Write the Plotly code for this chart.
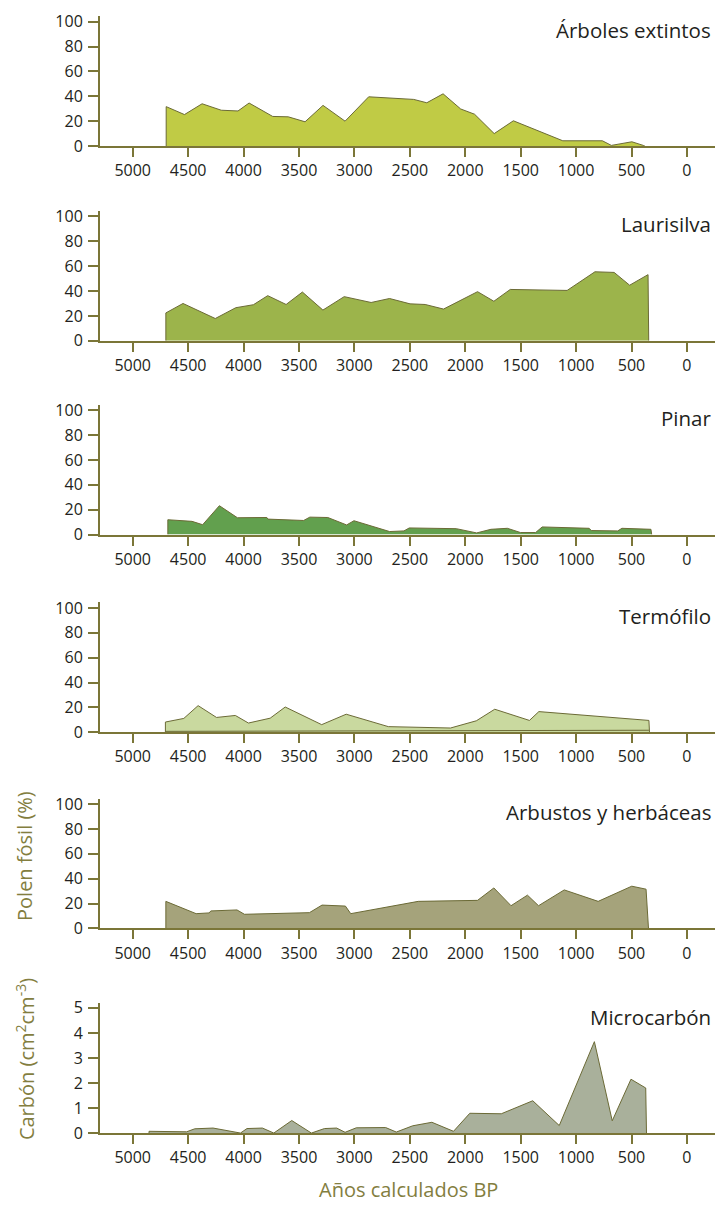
import plotly.graph_objects as go

# ---------------- data ----------------
x_ticks = [5000, 4500, 4000, 3500, 3000, 2500, 2000, 1500, 1000, 500, 0]
pct_ticks = [0, 20, 40, 60, 80, 100]
carbon_ticks = [0, 1, 2, 3, 4, 5]

panel_titles = ["Árboles extintos", "Laurisilva", "Pinar", "Termófilo",
                "Arbustos y herbáceas", "Microcarbón"]

arboles_x = [4698, 4698, 4533, 4374, 4201, 4050, 3950, 3737, 3597, 3445, 3283, 3084,
             2871, 2465, 2347, 2200, 2041, 1916, 1739, 1566, 1120, 763, 682, 497, 394, 380]
arboles_y = [0, 31.7, 25.3, 34.0, 28.8, 28.2, 34.6, 23.8, 23.5, 19.5, 32.7, 20.0,
             39.6, 37.5, 34.8, 42.0, 29.8, 25.6, 10.0, 20.3, 4.2, 4.2, 0.5, 3.4, 0.5, 0]

laurisilva_x = [4701, 4701, 4546, 4255, 4070, 3911, 3782, 3616, 3469, 3284, 3092, 2849,
                2683, 2498, 2362, 2196, 1889, 1742, 1594, 1081, 830, 657, 517, 351, 345]
laurisilva_y = [0, 22.4, 30.0, 17.9, 26.6, 29.0, 36.3, 29.2, 39.2, 24.7, 35.5, 30.8,
                34.0, 29.7, 29.2, 25.5, 39.5, 31.8, 41.3, 40.5, 55.5, 55.0, 44.7, 53.2, 0]

pinar_x = [4683, 4683, 4465, 4369, 4218, 4055, 3790, 3779, 3458, 3402, 3240, 3070, 3004,
           2683, 2553, 2505, 2081, 1897, 1768, 1620, 1502, 1365, 1306, 882, 863, 624, 587,
           325, 318]
pinar_y = [0, 11.9, 10.6, 7.9, 23.2, 13.5, 13.7, 12.4, 11.3, 14.0, 13.7, 7.7, 11.1,
           2.4, 2.9, 5.3, 4.7, 1.3, 4.2, 5.0, 1.6, 1.6, 6.1, 5.0, 3.2, 2.9, 5.0,
           4.2, 0]

termofilo_x = [4705, 4705, 4539, 4410, 4244, 4074, 3956, 3760, 3624, 3295, 3074, 2694,
               2133, 1900, 1734, 1421, 1336, 343, 338]
termofilo_y = [0, 8.2, 11.1, 21.4, 11.9, 13.5, 7.4, 11.3, 20.3, 6.1, 14.5, 4.5,
               3.4, 9.2, 18.5, 9.5, 16.6, 9.5, 0]
termofilo_base_x = [4705, 343]
termofilo_base_y = [0.7, 1.6]

arbustos_x = [4701, 4701, 4428, 4310, 4295, 4059, 3992, 3406, 3292, 3081, 3033, 2424,
              1889, 1742, 1587, 1439, 1339, 1107, 801, 498, 369, 347]
arbustos_y = [0, 21.8, 11.9, 12.5, 14.1, 14.9, 11.4, 12.7, 18.8, 18.0, 11.9, 21.8,
              22.6, 32.6, 18.3, 26.8, 18.3, 31.0, 21.8, 34.0, 31.6, 0]

carbon_x = [4853, 4853, 4514, 4440, 4275, 4028, 3969, 3830, 3727, 3565, 3388, 3270, 3160,
            3084, 2983, 2718, 2622, 2474, 2301, 2106, 1959, 1675, 1391, 1152, 835, 674,
            505, 372, 365]
carbon_y = [0, 0.07, 0.05, 0.17, 0.20, 0.0, 0.18, 0.20, 0.0, 0.50, 0.0, 0.18, 0.20,
            0.03, 0.21, 0.22, 0.04, 0.29, 0.43, 0.07, 0.79, 0.77, 1.29, 0.30, 3.65, 0.49,
            2.15, 1.80, 0]

# ---------------- styling ----------------
W, H = 715, 1219
L_MARGIN = 100
OLIVE = "#7b7638"
EDGE = "#6b6a36"
LABEL_OLIVE = "#837e3f"
TEXT = "#231f20"
FONT = "Open Sans"

fills = ["#c0cb45", "#9cb44b", "#62a04e", "#c9d99f", "#a5a37b", "#a9b09b"]
series = [(arboles_x, arboles_y), (laurisilva_x, laurisilva_y), (pinar_x, pinar_y),
          (termofilo_x, termofilo_y), (arbustos_x, arbustos_y), (carbon_x, carbon_y)]

zero_px = [142, 339.5, 536, 736.5, 935.5, 1143]
heights = [131.7, 131.7, 131.7, 131.7, 131.7, 132.3]
yranges = [[0, 104.5]] * 5 + [[0, 5.21]]
yticks = [pct_ticks] * 5 + [carbon_ticks]
xrange_ = [5295, -253]

fig = go.Figure()
layout = dict(
    width=W, height=H,
    margin=dict(l=L_MARGIN, r=0, t=0, b=0),
    paper_bgcolor="white", plot_bgcolor="white",
    showlegend=False,
    font=dict(family=FONT, size=15, color=TEXT),
)
annotations = []

for i in range(6):
    k = i + 1
    xa = "x" if k == 1 else f"x{k}"
    ya = "y" if k == 1 else f"y{k}"
    xs, ys = series[i]
    fig.add_trace(go.Scatter(
        x=xs, y=ys, mode="lines", fill="tozeroy",
        fillcolor=fills[i], line=dict(color=EDGE, width=1),
        xaxis=xa, yaxis=ya, hoverinfo="skip"))
    if i == 3:
        fig.add_trace(go.Scatter(
            x=termofilo_base_x, y=termofilo_base_y, mode="lines",
            line=dict(color=EDGE, width=1), xaxis=xa, yaxis=ya, hoverinfo="skip"))

    b = zero_px[i]
    top = b - heights[i]
    xkey = "xaxis" if k == 1 else f"xaxis{k}"
    ykey = "yaxis" if k == 1 else f"yaxis{k}"
    layout[xkey] = dict(
        domain=[0, 1], anchor=ya, range=xrange_, tickvals=x_ticks,
        ticktext=[str(v) for v in x_ticks],
        showline=True, linecolor=OLIVE, linewidth=2,
        ticks="outside", ticklen=9, tickwidth=2, tickcolor=OLIVE,
        showgrid=False, zeroline=False, tickfont=dict(size=16, color=TEXT, family=FONT),
        ticklabelstandoff=0,
    )
    layout[ykey] = dict(
        domain=[1 - b / H, 1 - top / H], anchor=xa, range=yranges[i],
        tickvals=yticks[i], ticktext=[str(v) for v in yticks[i]],
        showline=True, linecolor=OLIVE, linewidth=2,
        ticks="outside", ticklen=10, tickwidth=2, tickcolor=OLIVE,
        showgrid=False, zeroline=False, tickfont=dict(size=16, color=TEXT, family=FONT),
        ticklabelstandoff=2,
    )
    annotations.append(dict(
        text=panel_titles[i], xref="paper", yref="paper",
        x=(713 - L_MARGIN) / (W - L_MARGIN), y=1 - (b - 118) / H,
        xanchor="right", yanchor="middle", showarrow=False,
        font=dict(family=FONT, size=20.5, color=TEXT)))

# axis titles
annotations.append(dict(
    text="Polen fósil (%)", xref="paper", yref="paper",
    x=(25 - L_MARGIN) / (W - L_MARGIN), y=1 - 862 / H, textangle=-90,
    xanchor="center", yanchor="middle", showarrow=False,
    font=dict(family=FONT, size=20, color=LABEL_OLIVE)))
annotations.append(dict(
    text="Carbón (cm<sup>2</sup>cm<sup>-3</sup>)", xref="paper", yref="paper",
    x=(25 - L_MARGIN) / (W - L_MARGIN), y=1 - 1068 / H, textangle=-90,
    xanchor="center", yanchor="middle", showarrow=False,
    font=dict(family=FONT, size=20, color=LABEL_OLIVE)))
annotations.append(dict(
    text="Años calculados BP", xref="paper", yref="paper",
    x=(408 - L_MARGIN) / (W - L_MARGIN), y=1 - 1200 / H,
    xanchor="center", yanchor="middle", showarrow=False,
    font=dict(family=FONT, size=20, color=LABEL_OLIVE)))

layout["annotations"] = annotations
fig.update_layout(**layout)
fig.write_html(
    "out.html",
    config={"displayModeBar": False},
    post_script="document.body.style.margin='0';document.body.style.overflow='hidden';",
)
